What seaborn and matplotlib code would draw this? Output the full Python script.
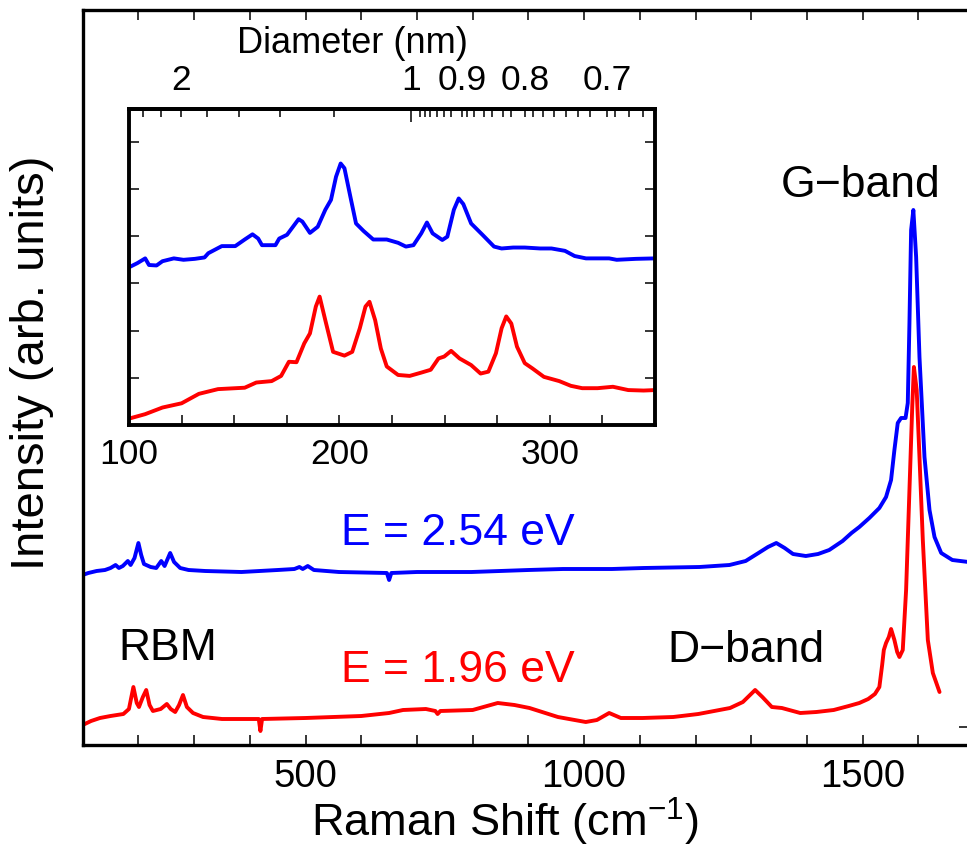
import numpy as np
import matplotlib
matplotlib.use("Agg")
import matplotlib.pyplot as plt
from matplotlib.ticker import FixedLocator, FuncFormatter
import seaborn as sns

# ---------------- data ----------------
# Full Raman spectra, E = 2.54 eV excitation (Raman shift in cm^-1, intensity in arb. units)
shift_254 = [100, 110, 125, 140, 150, 159, 165, 172, 181, 186, 193, 200, 205, 210, 222,
             232, 241, 247, 257, 264, 275, 290, 320, 385, 450, 480, 489, 495, 504, 515,
             560, 646, 650, 654, 700, 798, 900, 962, 1050, 1107, 1207, 1261, 1290, 1313,
             1330, 1345, 1360, 1375, 1398, 1420, 1440, 1464, 1480, 1494, 1512, 1530, 1542,
             1551, 1557, 1563, 1569, 1577, 1581, 1584, 1587, 1591, 1596, 1602, 1611, 1620,
             1629, 1641, 1661, 1690]
inten_254 = [1.52, 1.54, 1.56, 1.57, 1.59, 1.62, 1.59, 1.61, 1.66, 1.62, 1.69, 1.84, 1.72, 1.63, 1.60,
             1.59, 1.66, 1.61, 1.74, 1.65, 1.59, 1.57, 1.56, 1.55, 1.57, 1.58, 1.60, 1.58, 1.61, 1.57,
             1.55, 1.54, 1.47, 1.54, 1.55, 1.55, 1.57, 1.58, 1.58, 1.59, 1.60, 1.62, 1.66, 1.74,
             1.80, 1.84, 1.79, 1.73, 1.71, 1.73, 1.77, 1.86, 1.94, 2.00, 2.09, 2.19, 2.30,
             2.47, 2.77, 3.04, 3.09, 3.09, 3.24, 4.04, 4.97, 5.17, 4.70, 3.70, 2.70, 2.17,
             1.90, 1.74, 1.67, 1.65]

# Full Raman spectra, E = 1.96 eV excitation
shift_196 = [100, 115, 131, 150, 173, 183, 191, 197, 201, 208, 214, 220, 226, 240, 251,
             258, 266, 273, 280, 287, 298, 316, 350, 416, 419, 422, 500, 600, 650, 675,
             716, 733, 737, 742, 800, 845, 875, 902, 953, 1003, 1023, 1045, 1066, 1105,
             1160, 1205, 1262, 1285, 1307, 1320, 1337, 1355, 1388, 1417, 1448, 1475, 1494,
             1510, 1522, 1530, 1535, 1538, 1542, 1547, 1551, 1557, 1562, 1566, 1572, 1578,
             1584, 1589, 1592, 1597, 1602, 1608, 1617, 1626, 1638]
inten_196 = [0.02, 0.06, 0.09, 0.11, 0.13, 0.18, 0.40, 0.24, 0.20, 0.30, 0.37, 0.22, 0.16, 0.18, 0.23,
             0.18, 0.15, 0.22, 0.32, 0.20, 0.14, 0.10, 0.08, 0.08, -0.04, 0.08, 0.09, 0.11, 0.14, 0.17,
             0.18, 0.16, 0.13, 0.16, 0.17, 0.24, 0.22, 0.19, 0.10, 0.05, 0.07, 0.14, 0.09, 0.09,
             0.10, 0.13, 0.19, 0.25, 0.37, 0.30, 0.20, 0.19, 0.14, 0.15, 0.17, 0.21, 0.24,
             0.28, 0.33, 0.40, 0.62, 0.77, 0.84, 0.90, 0.98, 0.87, 0.75, 0.70, 0.77, 1.37,
             2.37, 3.20, 3.60, 3.37, 2.70, 1.87, 0.87, 0.54, 0.35]

# Radial breathing mode region (inset), E = 2.54 eV
rbm_shift_254 = [100.4, 104, 107.7, 109.5, 113.1, 115.9, 121.3, 125.9, 131.3, 135.9, 137.7, 144.1,
                 150.5, 155, 158.7, 161.4, 163.2, 169.6, 171.4, 175.1, 180.6, 182.4, 186, 189.7,
                 193.3, 196, 198.4, 200.6, 202.4, 205.2, 207.9, 211.5, 216.1, 222.5, 227.9, 231.6,
                 235.2, 238.9, 241.6, 244.3, 248.9, 251.3, 254.4, 256.7, 258.9, 262.6, 268, 273.5,
                 277.1, 282.6, 288.1, 295.4, 300.8, 307.2, 311.8, 317.2, 328.2, 331.8, 340.9, 350]
rbm_inten_254 = [3.35, 3.43, 3.53, 3.39, 3.38, 3.47, 3.53, 3.50, 3.52, 3.55, 3.64, 3.79,
                 3.79, 3.93, 4.04, 3.95, 3.81, 3.81, 3.95, 4.03, 4.36, 4.31, 4.07, 4.20,
                 4.56, 4.77, 5.26, 5.54, 5.44, 4.84, 4.27, 4.11, 3.93, 3.93, 3.86, 3.78,
                 3.81, 4.06, 4.29, 4.06, 3.92, 3.99, 4.56, 4.80, 4.68, 4.27, 4.03, 3.78,
                 3.74, 3.76, 3.76, 3.74, 3.74, 3.69, 3.58, 3.53, 3.53, 3.50, 3.52, 3.53]

# Radial breathing mode region (inset), E = 1.96 eV
rbm_shift_196 = [100.4, 107.7, 115.9, 125, 133.2, 142.3, 155, 160.5, 167.8, 172.3, 176, 179.6,
                 183.3, 186, 188.8, 190.6, 193.3, 197, 202.4, 206.1, 209.7, 212.4, 214.3, 217,
                 219.7, 222.5, 227.9, 233.4, 238.9, 243.4, 247.1, 249.8, 253.1, 257.1, 262.6,
                 267.1, 270.8, 274.4, 277.1, 279.3, 281.7, 284.4, 288.1, 291.7, 297.2, 304.5,
                 310, 315.4, 322.7, 330, 337.3, 344.6, 350]
rbm_inten_196 = [0.14, 0.23, 0.37, 0.46, 0.66, 0.76, 0.79, 0.90, 0.93, 1.04, 1.34, 1.33,
                 1.73, 1.94, 2.51, 2.72, 2.22, 1.55, 1.47, 1.55, 2.05, 2.51, 2.61, 2.22,
                 1.62, 1.24, 1.06, 1.04, 1.11, 1.17, 1.41, 1.45, 1.57, 1.41, 1.27,
                 1.09, 1.13, 1.52, 2.05, 2.30, 2.15, 1.66, 1.31, 1.20, 1.02, 0.93,
                 0.83, 0.78, 0.78, 0.81, 0.74, 0.73, 0.74]

# Axis ticks
main_major = [500, 1000, 1500]
main_minor = [200, 300, 400, 600, 700, 800, 900, 1100, 1200, 1300, 1400, 1600]
inset_major = [100, 200, 300]
inset_minor = [125, 150, 175, 225, 250, 275, 325]
inset_yticks = [1, 2, 3, 4, 5, 6]
diam_major = [1.0]
diam_labeled = [2.0, 0.9, 0.8, 0.7]
diam_minor = [2.4, 2.2, 2.0, 1.8, 1.6, 1.4, 1.2,
              0.981, 0.970, 0.959, 0.945, 0.932, 0.919, 0.9, 0.891, 0.878, 0.862,
              0.849, 0.833, 0.820, 0.8, 0.790, 0.776, 0.762, 0.747, 0.733, 0.719,
              0.7, 0.692, 0.678, 0.664]

# ---------------- style ----------------
sns.set_theme(style="ticks")
plt.rcParams["font.family"] = ["Liberation Sans", "DejaVu Sans"]
plt.rcParams["mathtext.default"] = "regular"
for key in ("text.color", "axes.labelcolor", "xtick.color", "ytick.color", "axes.edgecolor"):
    plt.rcParams[key] = "black"

BLUE = "#0000ff"
RED = "#ff0000"
W, H = 967, 848

fig = plt.figure(figsize=(W / 100, H / 100), dpi=100)
fig.patch.set_facecolor("white")

# main axes (right frame edge lies just past the canvas)
ax = fig.add_axes([82.7 / W, 1 - 745 / H, (968.5 - 82.7) / W, (745 - 10) / H])
ax.set_facecolor("white")

sns.lineplot(x=shift_254, y=inten_254, ax=ax, color=BLUE, lw=2.8, estimator=None, sort=False)
sns.lineplot(x=shift_196, y=inten_196, ax=ax, color=RED, lw=2.8, estimator=None, sort=False)

ax.set_xlim(100, 1690)
ax.set_ylim(-0.18, 7.17)
ax.xaxis.set_major_locator(FixedLocator(main_major))
ax.xaxis.set_minor_locator(FixedLocator(main_minor))
ax.tick_params(axis="x", which="both", direction="in", top=True, bottom=True,
               length=7, width=1.1, labelsize=27.5, pad=10, colors="black")
ax.yaxis.tick_right()
ax.set_yticks([0])
ax.set_yticklabels([])
ax.tick_params(axis="y", direction="in", length=7, width=1.1, left=False, right=True)
for s in ax.spines.values():
    s.set_linewidth(2.4)
    s.set_color("black")

ax.set_xlabel("Raman Shift (cm$^{-1}$)", fontsize=32.5, va="baseline")
ax.xaxis.set_label_coords((505 - 82.7) / 885.8, (745 - 837) / 735)
ax.yaxis.set_label_position("left")
ax.set_ylabel("Intensity (arb. units)", fontsize=34, va="center")
ax.yaxis.set_label_coords((32 - 82.7) / 885.8, 0.52)

ax.text(1496, 5.30, "G\u2212band", fontsize=32, ha="center", va="baseline")
ax.text(773, 1.82, "E = 2.54 eV", fontsize=32, ha="center", va="baseline", color=BLUE)
ax.text(252, 0.67, "RBM", fontsize=32, ha="center", va="baseline")
ax.text(773, 0.453, "E = 1.96 eV", fontsize=32, ha="center", va="baseline", color=RED)
ax.text(1290, 0.653, "D\u2212band", fontsize=32, ha="center", va="baseline")

# inset: RBM region
ins = fig.add_axes([129 / W, 1 - 425 / H, (655 - 129) / W, (425 - 109) / H])
ins.set_facecolor("white")
sns.lineplot(x=rbm_shift_254, y=rbm_inten_254, ax=ins, color=BLUE, lw=2.8, estimator=None, sort=False)
sns.lineplot(x=rbm_shift_196, y=rbm_inten_196, ax=ins, color=RED, lw=2.8, estimator=None, sort=False)
ins.set_xlim(100, 350)
ins.set_ylim(0, 6.695)
ins.xaxis.set_major_locator(FixedLocator(inset_major))
ins.xaxis.set_minor_locator(FixedLocator(inset_minor))
ins.tick_params(axis="x", which="both", direction="in", top=False, bottom=True,
                length=7.5, width=1.1, labelsize=25.5, pad=9.5)
ins.set_yticks(inset_yticks)
ins.set_yticklabels([])
ins.tick_params(axis="y", direction="in", left=True, right=True, length=7.5, width=1.1)
ins.set_xlabel("")
ins.set_ylabel("")
for s in ins.spines.values():
    s.set_linewidth(2.8)
    s.set_color("black")


# tube diameter (nm) from RBM frequency: w = 218 / d + 15.9
def w2d(w):
    w = np.asarray(w, dtype=float)
    with np.errstate(divide="ignore", invalid="ignore"):
        return 218.0 / (w - 15.9)


def d2w(d):
    d = np.asarray(d, dtype=float)
    with np.errstate(divide="ignore", invalid="ignore"):
        return 218.0 / d + 15.9


sec = ins.secondary_xaxis("top", functions=(w2d, d2w))
sec.xaxis.set_major_locator(FixedLocator(diam_major))
sec.xaxis.set_minor_locator(FixedLocator(diam_minor))
sec.xaxis.set_major_formatter(FuncFormatter(lambda v, p: "1"))


def minor_label(v, p):
    for t in diam_labeled:
        if abs(v - t) < 1e-6:
            return "2" if t == 2.0 else f"{t:.1f}"
    return ""


sec.xaxis.set_minor_formatter(FuncFormatter(minor_label))
sec.tick_params(which="major", direction="in", length=9.5, width=1.1, labelsize=25.5, pad=8.5)
sec.tick_params(which="minor", direction="in", length=5.5, width=1.1, labelsize=25.5, pad=8.5)
sec.spines["top"].set_linewidth(2.8)

ins.text((352 - 129) / 526, (425 - 53.3) / 316, "Diameter (nm)", transform=ins.transAxes,
         fontsize=26, ha="center", va="baseline")

fig.savefig("out.png", dpi=100, facecolor="white")
